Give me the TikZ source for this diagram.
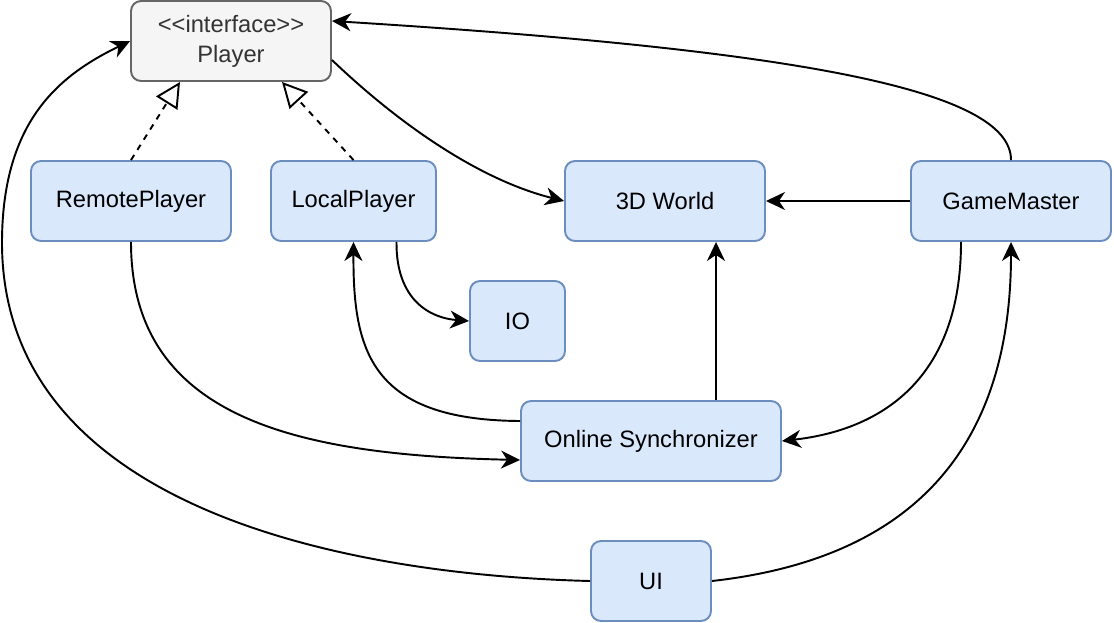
\documentclass[tikz,border=0pt]{standalone}
\usepackage{fontspec}
\setmainfont{Liberation Sans}
\usetikzlibrary{arrows.meta,calc}
\definecolor{boxfill}{HTML}{DAE8FC}
\definecolor{boxline}{HTML}{6C8EBF}
\definecolor{ifacefill}{HTML}{F5F5F5}
\definecolor{ifaceline}{HTML}{666666}
\definecolor{ifacetext}{HTML}{333333}
\tikzset{
cls/.style={draw=boxline,fill=boxfill,rounded corners=0.2cm,line width=1.1pt,minimum height=1.6cm,inner sep=0pt,font=\fontsize{13.5}{17}\selectfont},
iface/.style={cls,draw=ifaceline,fill=ifacefill,text=ifacetext,align=center,minimum width=4cm},
uses/.style={line width=1.1pt,-{Stealth[length=0.38cm,width=0.36cm,inset=0.12cm]}},
impl/.style={line width=1.1pt,dash pattern=on 0.12cm off 0.12cm,-{Triangle[open,fill=white,length=0.5cm,width=0.5cm]}}
}
\begin{document}
\begin{tikzpicture}[x=0.02cm,y=-0.02cm]
\useasboundingbox (0,0) rectangle (1114,622);
\node[iface] (Player) at (231,41) {<\kern0pt<interface>\kern0pt>\\Player};
\foreach \n/\t/\x/\y/\w in {Remote/RemotePlayer/131/201/200, Local/LocalPlayer/353.5/201/165, World/3D World/665/201/200, Master/GameMaster/1011/201/200, IO/IO/517.5/321/95, Sync/Online Synchronizer/651/441/260, UI/UI/651/581/120}
{
\node[cls,minimum width=\w*0.02cm] (\n) at (\x,\y) {\t};
}
\coordinate (bend) at (2,240);

\draw[impl] (Remote.north) -- ($(Player.south)+(-51,0)$);
\draw[impl] (Local.north) -- ($(Player.south)+(51,0)$);

\draw[uses] ($(Player.east)+(0,19)$) .. controls (400,125) and (480,180) .. (World.west);
\draw[uses] (Master.north) .. controls (1011,90) and (800,50) .. ($(Player.east)+(0,-20)$);
\draw[uses] (Master.west) -- (World.east);
\draw[uses] ($(Master.south)+(-50,0)$) .. controls (961,380) and (880,430) .. (Sync.east);
\draw[uses] (UI.east) .. controls (900,560) and (1011,460) .. (Master.south);
\draw[uses] (UI.west) .. controls (350,575) and (0,510) .. (bend) .. controls (3,120) and (60,75) .. (Player.west);
\draw[uses] (Remote.south) .. controls (131,420) and (300,455) .. ($(Sync.west)+(0,19)$);
\draw[uses] ($(Sync.west)+(0,-20)$) .. controls (370,420) and (353,350) .. (Local.south);
\draw[uses] ($(Local.south)+(43,0)$) .. controls (396,300) and (430,318) .. (IO.west);
\draw[uses] ($(Sync.north)+(65,0)$) -- ($(World.south)+(51,0)$);

\end{tikzpicture}
\end{document}
